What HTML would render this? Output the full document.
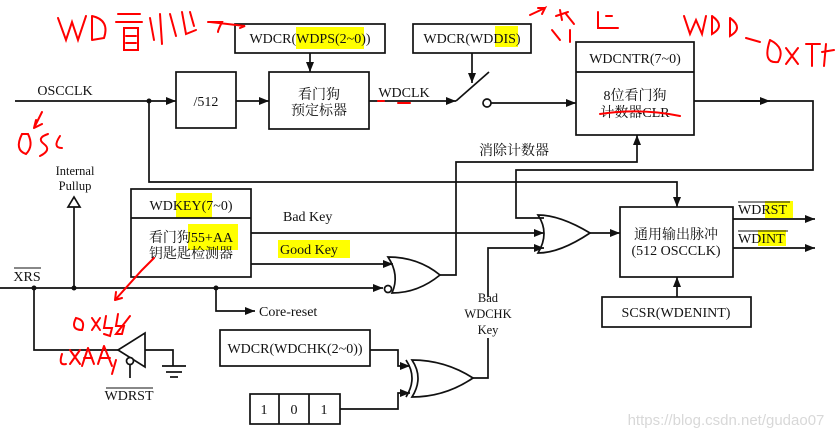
<!DOCTYPE html>
<html><head><meta charset="utf-8"><style>
html,body{margin:0;padding:0;background:#fff;}
svg{display:block;}
text{font-family:"Liberation Serif","Noto Serif CJK SC","Noto Sans CJK SC",serif;fill:#111;}
</style></head><body>
<svg width="840" height="439" viewBox="0 0 840 439" xmlns="http://www.w3.org/2000/svg">
<defs>
<marker id="a" markerWidth="10" markerHeight="8" refX="10" refY="4" orient="auto" markerUnits="userSpaceOnUse"><path d="M0,0 L10,4 L0,8 Z" fill="#111"/></marker>
</defs>
<g fill="#ffff00">
<rect x="296" y="27" width="68" height="22"/>
<rect x="495" y="26" width="23" height="21"/>
<rect x="176" y="193" width="36" height="25"/>
<rect x="188" y="224" width="50" height="26"/>
<rect x="278" y="240" width="72" height="18"/>
<rect x="765" y="201" width="28" height="17"/>
<rect x="758" y="230" width="28" height="16"/>
</g>
<g stroke="#111" stroke-width="1.7" fill="none">
<rect x="235" y="24" width="150" height="29"/>
<rect x="176" y="72" width="60" height="56"/>
<rect x="269" y="72" width="100" height="57"/>
<rect x="413" y="24" width="118" height="29"/>
<rect x="576" y="42" width="118" height="93"/>
<line x1="576" y1="72" x2="694" y2="72"/>
<rect x="131" y="189" width="120" height="88"/>
<line x1="131" y1="218" x2="251" y2="218"/>
<rect x="620" y="207" width="113" height="70"/>
<rect x="602" y="297" width="149" height="30"/>
<rect x="220" y="330" width="150" height="36"/>
<rect x="250" y="394" width="90" height="30"/>
<line x1="279" y1="394" x2="279" y2="424"/><line x1="309" y1="394" x2="309" y2="424"/>
<line x1="15" y1="101" x2="176" y2="101" marker-end="url(#a)"/>
<line x1="236" y1="101" x2="269" y2="101" marker-end="url(#a)"/>
<line x1="310" y1="53" x2="310" y2="72" marker-end="url(#a)"/>
<line x1="369" y1="101" x2="456" y2="101" marker-end="url(#a)"/>
<line x1="456" y1="101" x2="489" y2="72"/>
<circle cx="487" cy="103" r="4"/>
<line x1="472" y1="53" x2="472" y2="83" marker-end="url(#a)"/>
<line x1="491" y1="103" x2="576" y2="103" marker-end="url(#a)"/>
<polyline points="694,101 813,101 813,170 516,170 516,218 544,218"/>
<line x1="740" y1="101" x2="770" y2="101" marker-end="url(#a)"/>
<polyline points="149,101 149,182 677,182 677,207" marker-end="url(#a)"/>
<polyline points="440,275 456,275 456,162 637,162 637,135" marker-end="url(#a)"/>
<line x1="251" y1="233" x2="544" y2="233" marker-end="url(#a)"/>
<line x1="251" y1="264" x2="393" y2="264" marker-end="url(#a)"/>
<line x1="0" y1="288" x2="383" y2="288" marker-end="url(#a)"/>
<polyline points="488,338 488,378 473,378"/>
<polyline points="488,297 488,248 544,248" marker-end="url(#a)"/>
<path d="M538,215 Q560,215 590,233 Q560,253 538,253 Q550,233 538,215 Z"/>
<line x1="590" y1="233" x2="620" y2="233" marker-end="url(#a)"/>
<path d="M388,257 Q418,257 440,275 Q418,293 392,293 Q400,275 388,257 Z"/>
<circle cx="388" cy="289" r="3.5"/>
<path d="M412,360 Q445,360 473,378 Q445,397 412,397 Q424,378 412,360 Z"/>
<path d="M406,360 Q418,378 406,397"/>
<polyline points="370,350 398,350 398,366 410,366" marker-end="url(#a)"/>
<polyline points="340,409 398,409 398,393 410,393" marker-end="url(#a)"/>
<line x1="733" y1="219" x2="815" y2="219" marker-end="url(#a)"/>
<line x1="733" y1="248" x2="815" y2="248" marker-end="url(#a)"/>
<line x1="677" y1="297" x2="677" y2="277" marker-end="url(#a)"/>
<line x1="74" y1="288" x2="74" y2="207"/>
<path d="M68,207 L74,197 L80,207 Z" fill="#fff"/>
<polyline points="216,288 216,311 255,311" marker-end="url(#a)"/>
<polyline points="34,288 34,350 118,350"/>
<path d="M118,350 L145,333 L145,367 Z" fill="#fff"/>
<circle cx="130" cy="361" r="3.5" fill="#fff"/>
<line x1="130" y1="365" x2="130" y2="378"/>
<polyline points="145,350 173,350 173,366"/>
<line x1="162" y1="366" x2="186" y2="366"/><line x1="166" y1="372" x2="182" y2="372"/><line x1="170" y1="377" x2="178" y2="377"/>
</g>
<g fill="#111">
<circle cx="149" cy="101" r="2.5"/><circle cx="34" cy="288" r="2.5"/><circle cx="74" cy="288" r="2.5"/><circle cx="216" cy="288" r="2.5"/>
</g>
<g font-size="14">
<text x="310" y="43" text-anchor="middle">WDCR(WDPS(2~0))</text>
<text x="206" y="106" text-anchor="middle">/512</text>
<text x="319" y="99" text-anchor="middle">看门狗</text>
<text x="319" y="115" text-anchor="middle">预定标器</text>
<text x="65" y="95" text-anchor="middle">OSCCLK</text>
<text x="404" y="97" text-anchor="middle">WDCLK</text>
<text x="472" y="43" text-anchor="middle">WDCR(WDDIS)</text>
<text x="635" y="63" text-anchor="middle">WDCNTR(7~0)</text>
<text x="635" y="100" text-anchor="middle">8位看门狗</text>
<text x="635" y="117" text-anchor="middle">计数器CLR</text>
<text x="514" y="155" text-anchor="middle">消除计数器</text>
<text x="191" y="210" text-anchor="middle">WDKEY(7~0)</text>
<text x="191" y="242" text-anchor="middle">看门狗55+AA</text>
<text x="191" y="258" text-anchor="middle">钥匙匙检测器</text>
<text x="283" y="221">Bad Key</text>
<text x="280" y="254">Good Key</text>
<text x="676" y="239" text-anchor="middle">通用输出脉冲</text>
<text x="676" y="255" text-anchor="middle">(512 OSCCLK)</text>
<text x="676" y="317" text-anchor="middle">SCSR(WDENINT)</text>
<text x="295" y="353" text-anchor="middle">WDCR(WDCHK(2~0))</text>
<text x="264" y="414" text-anchor="middle">1</text><text x="294" y="414" text-anchor="middle">0</text><text x="324" y="414" text-anchor="middle">1</text>
<text x="259" y="316">Core-reset</text>
<text x="738" y="214">WDRST</text><line x1="738" y1="202" x2="790" y2="202" stroke="#111"/>
<text x="738" y="243">WDINT</text><line x1="738" y1="231" x2="788" y2="231" stroke="#111"/>
<text x="27" y="281" text-anchor="middle">XRS</text><line x1="14" y1="268" x2="41" y2="268" stroke="#111"/>
<text x="129" y="400" text-anchor="middle">WDRST</text><line x1="106" y1="388" x2="153" y2="388" stroke="#111"/>
</g>
<g font-size="12.5">
<text x="75" y="175" text-anchor="middle">Internal</text>
<text x="75" y="190" text-anchor="middle">Pullup</text>
<text x="488" y="302" text-anchor="middle">Bad</text>
<text x="488" y="318" text-anchor="middle">WDCHK</text>
<text x="488" y="334" text-anchor="middle">Key</text>
</g>
<text x="726" y="425" text-anchor="middle" font-size="15" style="font-family:'Liberation Sans',sans-serif;fill:#d8d8d8">https://blog.csdn.net/gudao07</text>
<g stroke="#f00" stroke-width="2" fill="none" stroke-linecap="round">
<path d="M58,18 L66,40 L72,22 L78,40 L86,16"/>
<path d="M92,16 L92,40 M92,16 Q110,20 104,38 L92,40"/>
<path d="M118,14 L140,14 M116,22 L142,22 M124,28 L138,28 L138,50 L124,50 Z M126,36 L136,36 M126,43 L136,43"/>
<path d="M150,18 L154,40 M160,14 L162,44 M170,14 L176,36 M182,12 L186,34 L196,30 M190,12 L194,26"/>
<path d="M208,22 L222,22 Q218,30 218,32 M210,22 L245,26 L240,28"/>
<path d="M42,112 L34,128 L36,120 M34,128 L42,124"/>
<path d="M22,134 Q14,150 26,154 Q34,146 28,134 Z M48,134 Q36,138 44,144 Q52,150 40,156 M60,136 Q52,148 62,148"/>
<path d="M378,101 L384,101 M398,103 L410,103"/>
<path d="M530,15 L545,8 L542,14 M545,8 L538,8"/>
<path d="M556,16 L568,12 M560,10 L562,20 M566,14 L574,24 M552,30 L560,40 M570,30 L570,42"/>
<path d="M598,12 L598,28 L618,28 M606,16 L612,16"/>
<path d="M684,16 L690,34 L696,20 L702,34 L706,16 M712,16 L712,34 Q726,26 712,16 M730,18 L730,36 Q744,28 730,18"/>
<path d="M746,38 L760,42 M770,40 Q762,64 778,62 Q786,48 770,40 M786,48 L798,64 M798,48 L786,64 M806,44 L820,44 M812,44 L812,66 M822,52 L834,50 M826,44 L824,66"/>
<path d="M600,114 Q640,108 680,116"/>
<path d="M154,258 L142,270 L115,300 M115,300 L116,292 M115,300 L122,298"/>
<path d="M76,318 Q70,330 82,330 Q86,320 76,318 Z M92,318 L100,330 M100,318 L92,330 M106,316 L104,328 L112,328 L110,336 L104,334 M118,314 L116,326 L124,326 L122,334 L116,334 L130,316"/>
<path d="M62,354 Q58,366 66,364 M70,350 L80,364 M80,350 L70,364 M88,348 L82,366 M88,348 L94,364 M84,358 L92,358 M104,346 L98,364 M104,346 L112,366 M100,358 L110,358 M112,374 L116,360"/>
</g>
</svg>
</body></html>
